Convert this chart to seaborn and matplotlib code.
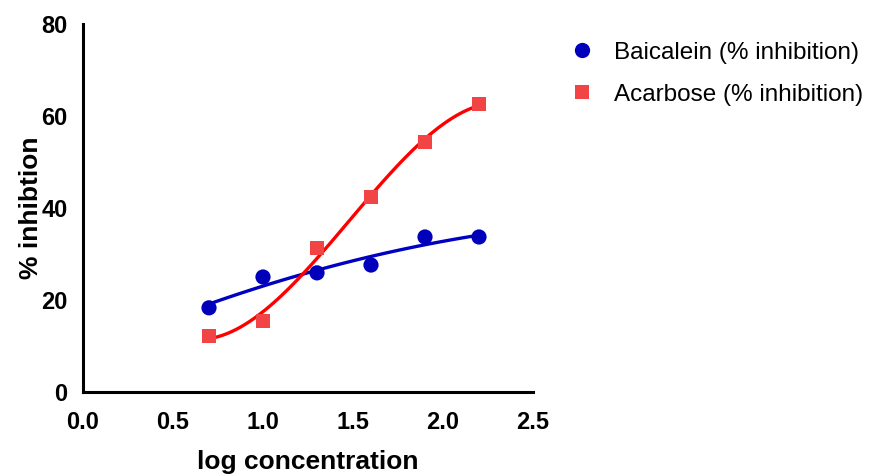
import matplotlib
matplotlib.use("Agg")
import matplotlib.pyplot as plt
import seaborn as sns
import pandas as pd
from matplotlib.lines import Line2D

sns.set_style("white")
plt.rcParams['font.family'] = ['Liberation Sans', 'DejaVu Sans']
plt.rcParams['text.color'] = 'black'
plt.rcParams['axes.labelcolor'] = 'black'
plt.rcParams['xtick.color'] = 'black'
plt.rcParams['ytick.color'] = 'black'

log_conc = [0.7, 1.0, 1.3, 1.6, 1.9, 2.2]
baicalein = [18.3, 25.0, 25.9, 27.6, 33.7, 33.7]
acarbose = [12.2, 15.4, 31.3, 42.4, 54.3, 62.6]
x_ticks = [0.0, 0.5, 1.0, 1.5, 2.0, 2.5]
y_ticks = [0, 20, 40, 60, 80]

blue_pt = "#0000BB"
blue_ln = "#0000C0"
red_pt = "#F24444"
red_ln = "#FF0000"

df = pd.DataFrame({"x": log_conc, "b": baicalein, "a": acarbose})

fig = plt.figure(figsize=(8.75, 4.76), dpi=100)
ax = fig.add_axes([83/875, 1-392/476, 450/875, 368/476])

sns.regplot(data=df, x="x", y="b", order=2, ci=None, scatter=False, truncate=True,
            line_kws=dict(color=blue_ln, lw=2.4), ax=ax)
sns.regplot(data=df, x="x", y="a", order=3, ci=None, scatter=False, truncate=True,
            line_kws=dict(color=red_ln, lw=2.4), ax=ax)
sns.scatterplot(data=df, x="x", y="b", marker="o", s=120, color=blue_pt, edgecolor="none", ax=ax, zorder=3)
sns.scatterplot(data=df, x="x", y="a", marker="s", s=105, color=red_pt, edgecolor="none", ax=ax, zorder=3)

ax.set_xlim(0, 2.5)
ax.set_ylim(0, 80)
ax.set_xticks(x_ticks)
ax.set_xticklabels([f"{v:.1f}" for v in x_ticks])
ax.set_yticks(y_ticks)
ax.set_yticklabels([str(v) for v in y_ticks])
for s in ["top", "right"]:
    ax.spines[s].set_visible(False)
for s in ["left", "bottom"]:
    ax.spines[s].set_linewidth(2.2)
    ax.spines[s].set_color("black")
ax.tick_params(axis="both", length=7, width=2.2, direction="out", color="black",
               labelsize=17, pad=4)
ax.tick_params(axis="x", pad=7)
for lab in ax.get_xticklabels() + ax.get_yticklabels():
    lab.set_fontweight("bold")
ax.set_xlabel("log concentration", fontsize=19, fontweight="bold", labelpad=11)
ax.set_ylabel("% inhibtion", fontsize=19, fontweight="bold", labelpad=-1)

handles = [
    Line2D([], [], marker="o", linestyle="none", color=blue_pt, markersize=11, markeredgewidth=0),
    Line2D([], [], marker="s", linestyle="none", color=red_pt, markersize=10, markeredgewidth=0),
]
leg = fig.legend(handles, ["Baicalein (% inhibition)", "Acarbose (% inhibition)"],
                 loc="upper left", bbox_to_anchor=(546/875, 1-20/476), frameon=False,
                 prop=dict(family=['Liberation Sans', 'DejaVu Sans'], size=17.5),
                 handletextpad=0.7, labelspacing=0.82, handlelength=1.2)

fig.savefig("out.png", dpi=100)
